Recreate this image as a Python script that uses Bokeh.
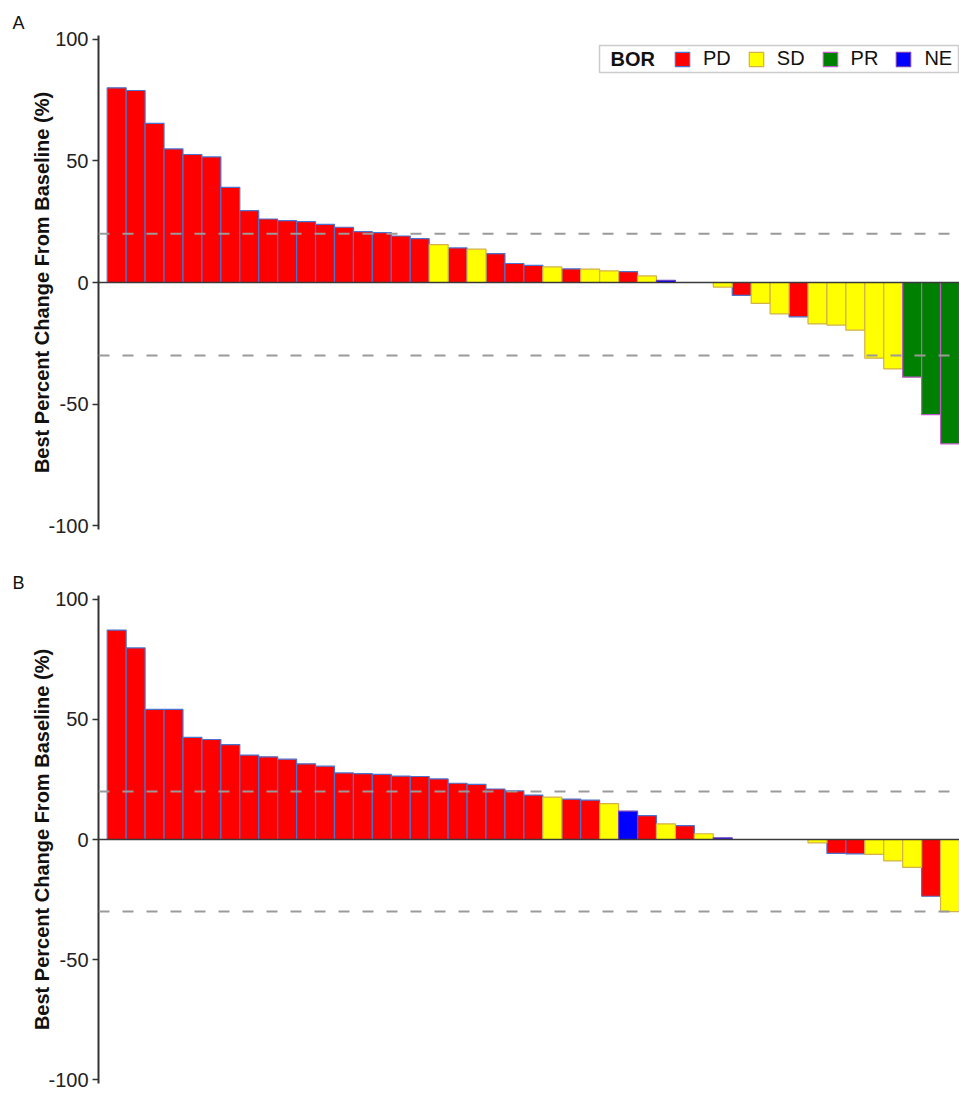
from bokeh.plotting import figure
from bokeh.models import (ColumnDataSource, Span, Label, Legend, LegendItem, FixedTicker,
                          Range1d, Title, BoxAnnotation)
from bokeh.layouts import column
from bokeh.embed import file_html
from bokeh.resources import INLINE

# ---------------- data ----------------
categories = ["PD", "SD", "PR", "NE"]

# Panel A: best percent change per patient (sorted waterfall), BOR per patient
values_a = [80.0, 78.9, 65.4, 54.9, 52.6, 51.6, 39.1, 29.5, 26.1, 25.4,
            25.0, 23.9, 22.7, 20.9, 20.5, 19.1, 18.0, 15.6, 14.2, 13.7,
            11.9, 7.8, 7.0, 6.4, 5.6, 5.5, 4.8, 4.5, 2.7, 0.9,
            0.0, 0.0, -1.9, -5.3, -8.6, -12.9, -14.1, -17.0, -17.5, -19.6,
            -31.1, -35.5, -38.9, -54.3, -66.3]
bor_a = ["PD"] * 17 + ["SD", "PD", "SD", "PD", "PD", "PD", "SD", "PD", "SD",
         "SD", "PD", "SD", "NE", "", "", "SD", "PD", "SD", "SD", "PD",
         "SD", "SD", "SD", "SD", "SD", "PR", "PR", "PR"]

# Panel B
values_b = [87.1, 79.7, 54.1, 54.1, 42.5, 41.6, 39.5, 35.1, 34.4, 33.4,
            31.5, 30.5, 27.7, 27.4, 27.1, 26.4, 26.2, 25.2, 23.4, 22.9,
            21.0, 20.2, 18.5, 17.6, 16.8, 16.4, 14.9, 11.8, 9.9, 6.5,
            5.8, 2.4, 0.7, 0.0, 0.0, 0.0, 0.0, -1.4, -5.8, -6.0,
            -6.2, -8.9, -11.6, -23.6, -30.0]
bor_b = ["PD"] * 23 + ["SD", "PD", "PD", "SD", "NE", "PD", "SD", "PD", "SD",
         "NE", "", "", "", "", "SD", "PD", "PD", "SD", "SD", "SD", "PD", "SD"]

y_ticks = [-100, -50, 0, 50, 100]
ref_lines = [20, -30]
legend_title = "BOR"
y_label = "Best Percent Change From Baseline (%)"

# ---------------- style ----------------
FILL = {"PD": "#FF0000", "SD": "#FFFF00", "PR": "#008000", "NE": "#0000FF"}
EDGE = {"PD": "#4A74D0", "SD": "#D4B04A", "PR": "#C05AC8", "NE": "#7040C0"}
FONT = "Liberation Sans"


def make_panel(values, bor, letter, height, top, bottom, with_legend):
    n = len(values)
    p = figure(width=959, height=height, output_backend="svg", toolbar_location=None,
               x_axis_location=None, y_axis_location="left", title=None,
               x_range=Range1d(-0.96, n - 0.5), y_range=Range1d(-101.5, 101.5),
               min_border_left=98, min_border_right=0,
               min_border_top=top, min_border_bottom=bottom,
               background_fill_color="white", border_fill_color="white")
    p.outline_line_color = None
    p.grid.visible = False

    renderers = {}
    for cat in categories:
        xs = [i for i in range(n) if bor[i] == cat]
        ys = [values[i] for i in range(n) if bor[i] == cat]
        src = ColumnDataSource(dict(x=xs, top=ys))
        renderers[cat] = p.vbar(x="x", top="top", bottom=0, width=1.0, source=src,
                                fill_color=FILL[cat], line_color=EDGE[cat], line_width=1.2)

    for yv in ref_lines:
        p.add_layout(Span(location=yv, dimension="width", line_color="#9a9a9a",
                          line_width=2, line_dash="11 13"))
    p.add_layout(Span(location=0, dimension="width", line_color="#3a3a3a", line_width=1.5))

    ax = p.yaxis[0]
    ax.ticker = FixedTicker(ticks=y_ticks)
    ax.major_label_overrides = {t: str(t) for t in y_ticks}
    ax.minor_tick_line_color = None
    ax.major_tick_in = 0
    ax.major_tick_out = 6
    ax.major_tick_line_color = "#333333"
    ax.major_tick_line_width = 1.5
    ax.axis_line_color = "#333333"
    ax.axis_line_width = 2
    ax.major_label_text_font = FONT
    ax.major_label_text_font_size = "20px"
    ax.major_label_text_color = "#222222"
    ax.major_label_standoff = 4
    ax.axis_label = y_label
    ax.axis_label_text_font = FONT
    ax.axis_label_text_font_size = "20px"
    ax.axis_label_text_font_style = "bold"
    ax.axis_label_text_color = "#111111"
    ax.axis_label_standoff = -8

    p.add_layout(Title(text=letter, align="left", offset=-86, standoff=5,
                       text_font=FONT, text_font_size="18px", text_font_style="normal",
                       text_color="#111111"), "above")

    if with_legend:
        # frame: 861 x 494 px; legend box in screen units from frame bottom-left
        p.add_layout(BoxAnnotation(left=501, right=860, bottom=457, top=484,
                                   left_units="screen", right_units="screen",
                                   bottom_units="screen", top_units="screen",
                                   fill_color="white", fill_alpha=1.0,
                                   line_color="#555555", line_width=1.5, level="annotation"))
        p.add_layout(Label(x=512, y=470.5, x_units="screen", y_units="screen",
                           text=legend_title, text_font=FONT, text_font_size="20px",
                           text_font_style="bold", text_color="#111111",
                           text_baseline="middle"))
        items = [LegendItem(label=c, renderers=[renderers[c]]) for c in categories]
        p.add_layout(Legend(items=items, orientation="horizontal", location=(575, 459),
                            label_text_font=FONT, label_text_font_size="20px",
                            label_text_color="#111111",
                            glyph_width=18, glyph_height=18, label_height=18,
                            label_standoff=12, spacing=16, padding=0, margin=0,
                            border_line_color=None, background_fill_alpha=0.0), "center")
    return p


pa = make_panel(values_a, bor_a, "A", 565, 35, 36, True)
pb = make_panel(values_b, bor_b, "B", 528, 30, 10, False)

layout = column(pa, pb, spacing=0)
open("out.html", "w").write(file_html(layout, INLINE))
